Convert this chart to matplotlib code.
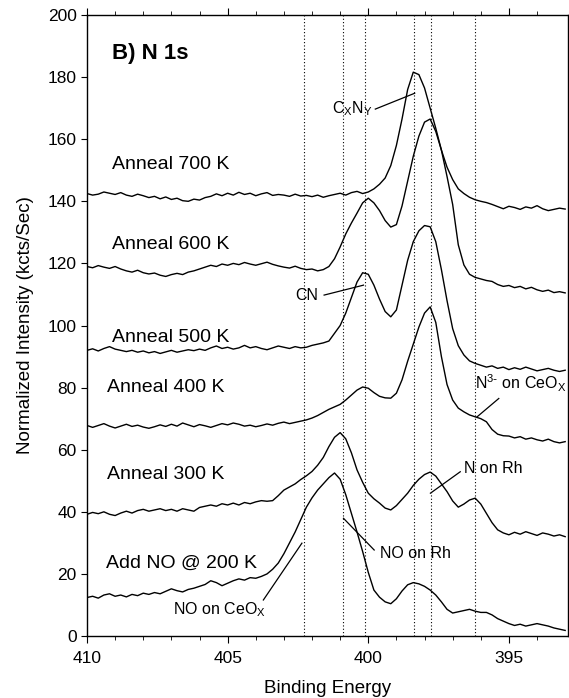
import matplotlib as mpl
mpl.use('Agg')
import matplotlib.pyplot as plt
import numpy as np

plt.rcParams['font.family'] = ['Liberation Sans', 'DejaVu Sans']

# binding energy grid (eV), 410 -> 393 in 0.2 eV steps
energy = np.linspace(410.0, 393.0, 86)

anneal_700 = [142.5, 142.0, 142.3, 143.0, 142.6, 142.2, 142.8, 142.0, 141.6, 142.3,
              141.8, 141.2, 141.6, 140.8, 141.4, 140.6, 141.0, 140.2, 140.0, 140.7,
              140.4, 141.2, 141.6, 142.4, 141.8, 142.6, 142.0, 142.9, 142.2, 142.6,
              141.8, 142.4, 142.8, 141.9, 142.2, 142.0, 141.6, 142.3, 141.7, 141.9,
              141.5, 142.0, 141.3, 141.8, 142.2, 142.6, 142.0, 142.8, 143.2, 142.5,
              143.0, 144.0, 145.5, 147.5, 151.5, 158.0, 166.5, 176.0, 181.6, 180.8,
              176.5, 170.0, 163.5, 156.5, 151.0, 147.0, 144.0, 142.5, 141.3, 140.5,
              140.0, 139.6, 139.0, 138.3, 137.6, 138.4, 138.0, 137.4, 138.2, 137.8,
              138.6, 137.6, 137.0, 137.4, 137.8, 137.5]

anneal_600 = [119.0, 118.6, 119.3, 118.8, 118.4, 119.0, 118.2, 117.6, 117.2, 117.8,
              117.0, 116.6, 116.9, 116.2, 115.8, 116.4, 116.8, 116.4, 117.2, 117.6,
              118.2, 118.8, 119.4, 119.0, 119.8, 119.4, 120.0, 119.6, 120.3, 119.8,
              119.4, 119.9, 120.4, 119.7, 119.2, 118.8, 118.5, 119.1, 118.4, 118.0,
              118.2, 117.6, 118.0, 119.0, 121.5, 125.3, 129.5, 133.0, 136.2, 139.5,
              141.0, 139.5, 137.0, 133.8, 131.7, 132.5, 138.5, 146.5, 154.5, 161.0,
              165.5, 166.5, 162.5, 156.5, 148.0, 139.0, 126.0, 119.5, 116.5, 115.5,
              115.0, 114.5, 114.2, 113.2, 112.6, 112.9, 112.2, 112.6, 111.8, 112.3,
              111.5, 111.0, 111.4, 110.6, 110.9, 110.5]

anneal_500 = [92.0, 92.5, 91.8, 92.6, 93.2, 92.4, 92.0, 91.6, 92.0, 91.4,
              91.8, 91.2, 91.6, 91.0, 91.5, 92.0, 91.4, 91.8, 92.2, 91.9,
              92.4, 92.0, 92.8, 93.4, 92.6, 93.0, 92.4, 92.8, 93.6, 92.8,
              93.2, 92.6, 92.2, 92.8, 93.4, 93.0, 92.6, 93.2, 92.8, 93.0,
              93.6, 94.0, 94.4, 95.0, 97.5, 100.0, 104.0, 109.0, 114.0, 117.0,
              116.5, 113.0, 108.5, 104.5, 102.8, 105.0, 113.0, 121.0, 127.0, 130.5,
              132.2, 131.8, 127.0, 118.0, 108.0, 99.0, 93.5, 90.5, 88.6, 87.8,
              87.2, 86.6, 87.0, 86.2, 86.6, 85.8, 86.4, 85.9, 86.6, 86.0,
              85.4, 85.8, 86.2, 85.6, 85.2, 85.6]

anneal_400 = [67.8, 67.2, 67.8, 68.4, 67.6, 67.0, 67.6, 68.2, 67.5, 67.9,
              67.3, 66.9, 67.4, 68.0, 67.5, 68.2, 67.6, 68.6, 68.0, 67.4,
              68.1, 67.7, 67.2, 67.8, 68.4, 68.0, 68.6, 68.2, 67.6, 67.9,
              67.4, 67.8, 68.3, 67.9, 68.5, 68.9, 68.4, 68.8, 69.2, 69.6,
              70.2, 71.0, 72.0, 73.0, 73.8, 74.6, 76.0, 77.6, 79.2, 80.2,
              79.8, 78.4, 77.2, 76.7, 76.6, 78.2, 82.5, 88.5, 94.0, 99.5,
              104.0, 106.0, 101.0, 90.0, 81.0, 76.0, 73.4, 72.2, 71.2, 70.6,
              70.0, 69.0, 66.5, 65.0, 64.5, 64.4, 63.8, 64.2, 63.4, 63.8,
              63.2, 62.8, 63.4, 62.6, 62.2, 62.6]

anneal_300 = [39.2, 39.8, 39.4, 40.0, 39.2, 38.8, 39.6, 40.2, 39.6, 40.4,
              40.8, 40.2, 40.6, 41.0, 40.4, 40.8, 40.2, 41.0, 40.6, 40.2,
              41.4, 41.8, 42.2, 41.8, 42.6, 42.2, 42.8, 42.2, 43.0, 42.6,
              43.2, 43.6, 43.4, 43.6, 45.2, 47.0, 48.0, 49.0, 50.4, 51.6,
              53.0, 55.0, 57.5, 61.0, 64.0, 65.5, 63.5, 59.0, 53.5, 49.5,
              46.0, 44.2, 42.8, 41.2, 40.6, 42.0, 44.0, 46.0, 48.5, 50.5,
              52.0, 52.8, 51.5, 49.0, 46.5, 43.5, 41.5, 42.5, 43.8, 44.4,
              42.5, 39.5, 36.5, 34.2, 33.2, 32.6, 33.4, 32.8, 33.6, 33.0,
              32.4, 33.2, 32.8, 32.2, 32.6, 32.0]

add_no_200 = [12.4, 12.8, 12.2, 13.2, 13.6, 12.8, 13.2, 12.6, 13.4, 13.0,
              13.8, 13.4, 14.0, 13.6, 14.4, 15.2, 14.6, 14.2, 15.0, 15.4,
              16.0, 16.6, 17.8, 17.2, 16.2, 17.0, 17.8, 18.4, 18.0, 18.8,
              18.6, 19.2, 20.0, 21.5, 23.5, 26.5, 30.0, 33.5, 37.5, 41.5,
              44.5, 47.0, 49.0, 51.0, 52.5, 50.5, 45.5, 39.5, 33.5, 27.2,
              20.5, 14.8, 12.5, 11.0, 10.4, 12.0, 14.5, 16.5, 17.2, 16.8,
              16.0, 14.8, 13.2, 11.0, 8.6, 7.4, 7.8, 8.2, 8.6, 8.0,
              7.6, 7.6, 6.8, 5.6, 4.8, 4.0, 3.4, 3.8, 3.2, 3.6,
              4.0, 3.6, 3.2, 2.6, 2.2, 1.8]

series = [anneal_700, anneal_600, anneal_500, anneal_400, anneal_300, add_no_200]
series_labels = ['Anneal 700 K', 'Anneal 600 K', 'Anneal 500 K',
                 'Anneal 400 K', 'Anneal 300 K', 'Add NO @ 200 K']
label_pos = [(409.12, 151.7), (409.12, 126.2), (409.12, 96.0),
             (409.3, 79.9), (409.3, 51.9), (409.32, 23.5)]

# reference peak positions (dotted lines)
peak_lines = [402.3, 400.9, 400.1, 398.37, 397.78, 396.2]

# annotations: text, text position, leader line start, leader line end
annotations = [
    ('C$_\\mathregular{X}$N$_\\mathregular{Y}$', (401.3, 170.0), (399.75, 169.7), (398.35, 174.8)),
    ('CN', (402.6, 109.8), (401.57, 109.8), (400.17, 113.0)),
    ('N$^{\\mathregular{3\\text{-}}}$ on CeO$_\\mathregular{X}$', (396.19, 81.5), (395.36, 76.5), (396.13, 70.6)),
    ('N on Rh', (396.6, 54.1), (396.73, 52.9), (397.79, 46.0)),
    ('NO on Rh', (399.57, 26.7), (400.88, 37.9), (399.79, 27.7)),
    ('NO on CeO$_\\mathregular{X}$', (406.94, 8.4), (403.73, 11.6), (402.36, 29.9)),
]

fig = plt.figure(figsize=(5.69, 6.98), dpi=100)
ax = fig.add_axes([0.1529, 0.0888, 0.8453, 0.8897])

for x in peak_lines:
    ax.axvline(x, color='black', linestyle=(0, (1, 2)), linewidth=0.8)

for y, lab, pos in zip(series, series_labels, label_pos):
    ax.plot(energy, y, color='black', linewidth=1.0)
    ax.text(pos[0], pos[1], lab, fontsize=14, ha='left', va='center')

for txt, tpos, p0, p1 in annotations:
    ax.text(tpos[0], tpos[1], txt, fontsize=11.5, ha='left', va='center')
    ax.plot([p0[0], p1[0]], [p0[1], p1[1]], color='black', linewidth=0.9)

ax.text(409.12, 187.7, 'B) N 1s', fontsize=16, fontweight='bold', ha='left', va='center')

ax.set_xlim(410, 392.9)
ax.set_ylim(0, 200)
ax.set_xticks([410, 405, 400, 395])
ax.set_xticks(np.arange(394, 410, 1), minor=True)
ax.set_yticks(np.arange(0, 201, 20))
ax.tick_params(axis='both', labelsize=12.5, direction='out', width=0.8)
ax.tick_params(axis='x', which='major', length=5, pad=6, top=True)
ax.tick_params(axis='x', which='minor', length=3, top=True)
ax.tick_params(axis='y', which='major', length=4, right=True)
ax.set_xlabel('Binding Energy', fontsize=13.5, labelpad=10)
ax.set_ylabel('Normalized Intensity (kcts/Sec)', fontsize=13.5, labelpad=10)
for s in ax.spines.values():
    s.set_linewidth(1.0)

plt.savefig('out.png', dpi=100)
